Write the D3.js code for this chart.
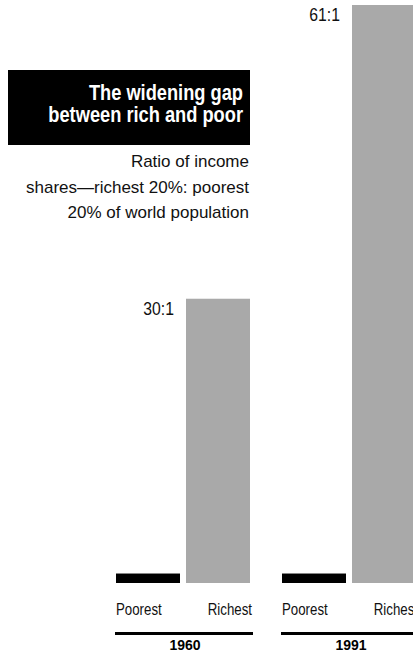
<!DOCTYPE html>
<html>
<head>
<meta charset="utf-8">
<script src="https://cdn.jsdelivr.net/npm/d3@7"></script>
<style>
  html, body { margin: 0; padding: 0; background: #fff; }
  svg { display: block; }
</style>
</head>
<body>
<svg id="chart" width="413" height="652"></svg>
<script>
const years = ["1960", "1991"];
const groups = ["Poorest", "Richest"];
const poorestValues = [1, 1];
const richestValues = [30, 61];
const ratioLabels = ["30:1", "61:1"];
const titleLines = ["The widening gap", "between rich and poor"];
const subtitleLines = ["Ratio of income", "shares\u2014richest 20%: poorest", "20% of world population"];

const data = years.map((y, i) => ({
  year: y,
  label: ratioLabels[i],
  bars: [
    { group: groups[0], value: poorestValues[i] },
    { group: groups[1], value: richestValues[i] }
  ]
}));

const svg = d3.select("#chart");
const font = "'Liberation Sans', Arial, sans-serif";
const squeeze = 0.83; // emulate a condensed face

const x0 = d3.scaleBand().domain(years).range([116, 416]).paddingInner(32 / 166).paddingOuter(0);
const x1 = d3.scaleBand().domain(groups).range([0, x0.bandwidth()]).paddingInner(6 / 70).paddingOuter(0);
const y = d3.scaleLinear().domain([0, 61]).range([583, 5]);

const color = d3.scaleOrdinal().domain(groups).range(["#000000", "#a9a9a9"]);

// Title box
svg.append("rect").attr("x", 8).attr("y", 70).attr("width", 242).attr("height", 75).attr("fill", "#000");
svg.selectAll("text.title").data(titleLines).join("text")
  .attr("class", "title")
  .attr("transform", (d, i) => `translate(243,${100 + i * 22}) scale(${squeeze},1)`)
  .attr("text-anchor", "end")
  .attr("fill", "#fff")
  .style("font-family", font)
  .style("font-weight", "bold")
  .style("font-size", "22px")
  .text(d => d);

// Subtitle
svg.selectAll("text.sub").data(subtitleLines).join("text")
  .attr("class", "sub")
  .attr("x", 249)
  .attr("y", (d, i) => 167 + i * 25.5)
  .attr("text-anchor", "end")
  .attr("fill", "#111")
  .style("font-family", font)
  .style("font-size", "17px")
  .text(d => d);

// Groups
const g = svg.selectAll("g.year").data(data).join("g")
  .attr("class", "year")
  .attr("transform", d => `translate(${x0(d.year)},0)`);

g.selectAll("rect.bar").data(d => d.bars).join("rect")
  .attr("class", "bar")
  .attr("x", d => x1(d.group))
  .attr("width", x1.bandwidth())
  .attr("y", d => y(d.value))
  .attr("height", d => y(0) - y(d.value))
  .attr("fill", d => color(d.group));

// Ratio labels
g.append("text")
  .attr("transform", d => `translate(${x1("Richest") - 12},${y(d.bars[1].value) + 16}) scale(${squeeze},1)`)
  .attr("text-anchor", "end")
  .attr("fill", "#111")
  .style("font-family", font)
  .style("font-size", "19px")
  .text(d => d.label);

// Category labels
g.selectAll("text.cat").data(groups).join("text")
  .attr("class", "cat")
  .attr("transform", d => `translate(${d === "Poorest" ? x1(d) : x1(d) + x1.bandwidth() + 2},615) scale(${squeeze},1)`)
  .attr("text-anchor", d => d === "Poorest" ? "start" : "end")
  .attr("fill", "#111")
  .style("font-family", font)
  .style("font-size", "16px")
  .text(d => d);

// Underline
g.append("line")
  .attr("x1", -1)
  .attr("x2", x0.bandwidth() + 3)
  .attr("y1", 633.5)
  .attr("y2", 633.5)
  .attr("stroke", "#000")
  .attr("stroke-width", 3);

// Year labels
g.append("text")
  .attr("x", x0.bandwidth() / 2 + 2)
  .attr("y", 650)
  .attr("text-anchor", "middle")
  .attr("fill", "#000")
  .style("font-family", font)
  .style("font-weight", "bold")
  .style("font-size", "14px")
  .text(d => d.year);
</script>
</body>
</html>
